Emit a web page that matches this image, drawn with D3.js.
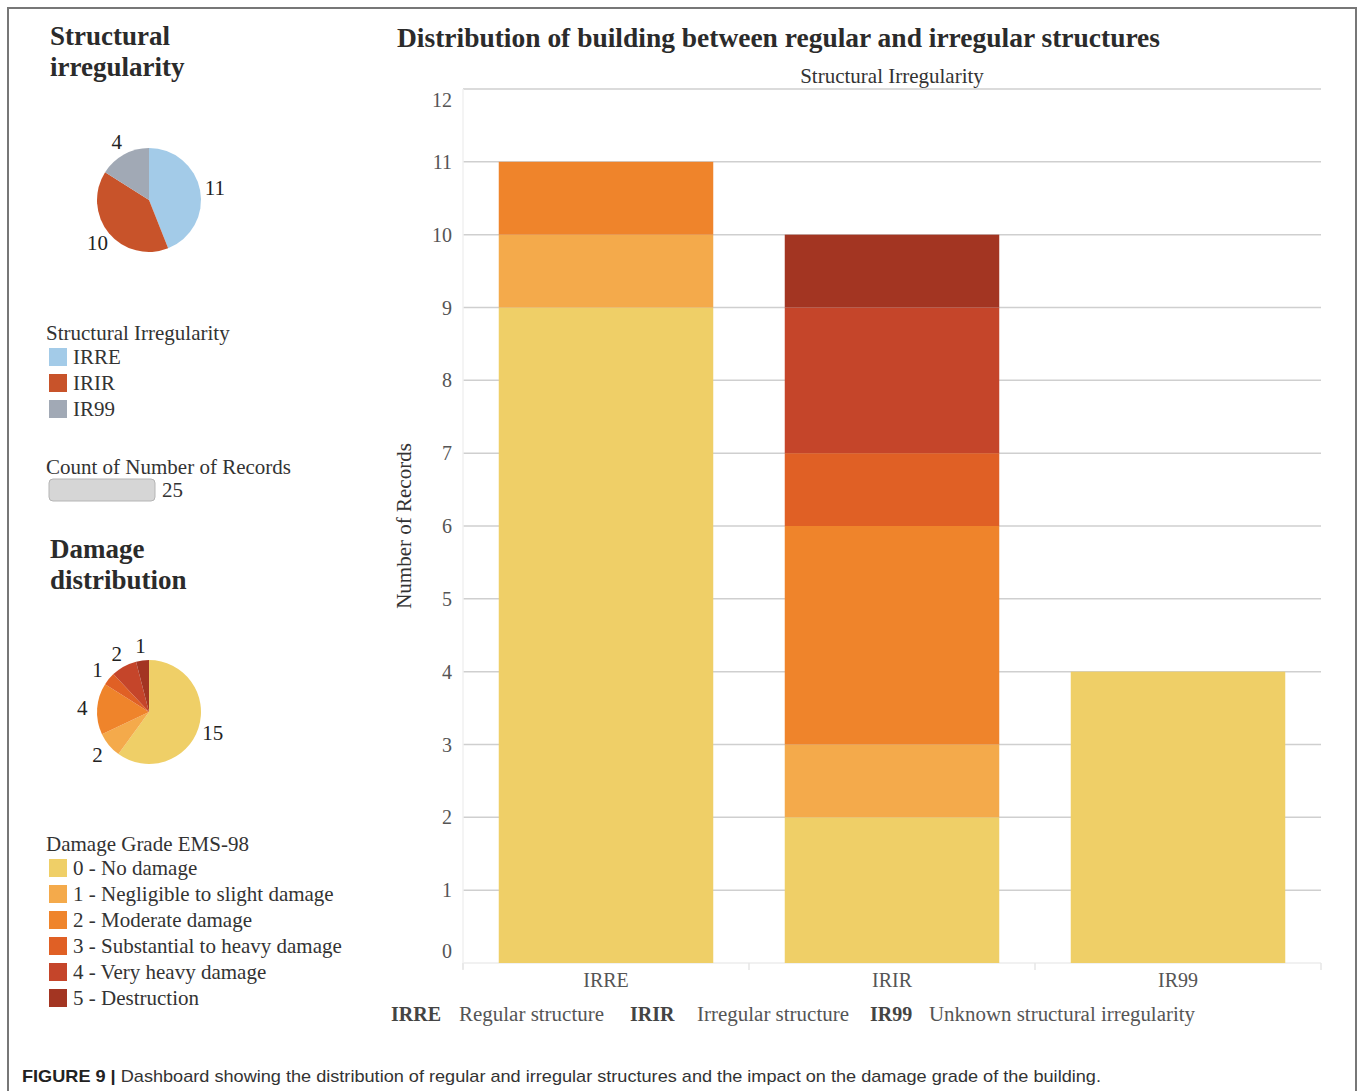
<!DOCTYPE html>
<html>
<head>
<meta charset="utf-8">
<script src="https://cdn.jsdelivr.net/npm/d3@7.9.0/dist/d3.min.js"></script>
<style>
  body { margin: 0; background: #fff; }
  svg text { font-family: "Liberation Serif", "Times New Roman", serif; fill: #333; }
</style>
</head>
<body>
<svg id="chart" width="1360" height="1091"></svg>
<script>
// data
const categories = ['IRRE', 'IRIR', 'IR99'];
const categoryNames = ['Regular structure', 'Irregular structure', 'Unknown structural irregularity'];
const grades = ['0 - No damage', '1 - Negligible to slight damage', '2 - Moderate damage',
  '3 - Substantial to heavy damage', '4 - Very heavy damage', '5 - Destruction'];
const countsIRRE = [9, 1, 1, 0, 0, 0];
const countsIRIR = [2, 1, 3, 1, 2, 1];
const countsIR99 = [4, 0, 0, 0, 0, 0];
const yTicks = [0, 1, 2, 3, 4, 5, 6, 7, 8, 9, 10, 11, 12];

const catColors = ['#a3cbe8', '#c8532a', '#a1a9b5'];
const gradeColors = ['#efcf67', '#f4aa4b', '#ef842b', '#e06025', '#c5452a', '#a33522'];

const svg = d3.select('#chart');

// figure frame
svg.append('path')
  .attr('d', 'M8,1091 V8 H1356 V1091')
  .attr('fill', 'none').attr('stroke', '#777').attr('stroke-width', 2);

const byCat = [countsIRRE, countsIRIR, countsIR99];
const rows = categories.map((c, i) => {
  let r = { cat: c };
  grades.forEach((g, j) => r[g] = byCat[i][j]);
  return r;
});
const catTotals = byCat.map(a => d3.sum(a));
const gradeTotals = grades.map((g, j) => d3.sum(byCat, a => a[j]));

// ---------- left panel ----------
function heading(lines, x, y) {
  let t = svg.append('text').attr('x', x).attr('y', y)
    .style('font-weight', 'bold').style('font-size', '27px').style('fill', '#2b2b2b');
  lines.forEach((l, i) => t.append('tspan').attr('x', x).attr('dy', i ? 31 : 0).text(l));
}

function drawPie(values, colors, cx, cy) {
  let pie = d3.pie().sort(null).value(d => d);
  let arc = d3.arc().innerRadius(0).outerRadius(52);
  let labelArc = d3.arc().innerRadius(67).outerRadius(67);
  let g = svg.append('g').attr('transform', `translate(${cx},${cy})`);
  let arcs = pie(values);
  g.selectAll('path').data(arcs).join('path')
    .attr('d', arc).attr('fill', (d, i) => colors[i]);
  g.selectAll('text').data(arcs.filter(d => d.value > 0)).join('text')
    .attr('transform', d => `translate(${labelArc.centroid(d)})`)
    .attr('text-anchor', 'middle').attr('dy', '0.35em')
    .style('font-size', '21px').style('fill', '#222')
    .text(d => d.value);
}

function legend(title, labels, colors, x, y) {
  svg.append('text').attr('x', x).attr('y', y).attr('dy', '0.35em')
    .style('font-size', '21px').text(title);
  labels.forEach((l, i) => {
    let yy = y + 24 + i * 26;
    svg.append('rect').attr('x', x + 3).attr('y', yy - 9).attr('width', 18).attr('height', 18)
      .attr('fill', colors[i]);
    svg.append('text').attr('x', x + 27).attr('y', yy).attr('dy', '0.35em')
      .style('font-size', '21px').text(l);
  });
}

heading(['Structural', 'irregularity'], 50, 45);
drawPie(catTotals, catColors, 149, 200);
legend('Structural Irregularity', categories, catColors, 46, 333);

// count of records
const total = d3.sum(catTotals);
const countX = d3.scaleLinear().domain([0, 25]).range([0, 106]);
svg.append('text').attr('x', 46).attr('y', 467).attr('dy', '0.35em')
  .style('font-size', '21px').text('Count of Number of Records');
svg.append('rect').attr('x', 49).attr('y', 479).attr('width', countX(total)).attr('height', 22)
  .attr('rx', 4).attr('fill', '#d6d6d6').attr('stroke', '#b5b5b5').attr('stroke-width', 1);
svg.append('text').attr('x', 49 + countX(total) + 7).attr('y', 490).attr('dy', '0.35em')
  .style('font-size', '21px').text(total);

heading(['Damage', 'distribution'], 50, 558);
drawPie(gradeTotals, gradeColors, 149, 712);
legend('Damage Grade EMS-98', grades, gradeColors, 46, 844);

// ---------- stacked bar chart ----------
const plotL = 463, plotR = 1321, plotT = 89, plotB = 963;
const x = d3.scaleBand().domain(categories).range([plotL, plotR]).paddingInner(0.25).paddingOuter(0.125);
const y = d3.scaleLinear().domain([0, 12]).range([plotB, plotT]);

svg.append('text').attr('x', 397).attr('y', 37).attr('dy', '0.35em')
  .attr('textLength', 763).attr('lengthAdjust', 'spacingAndGlyphs')
  .style('font-weight', 'bold').style('font-size', '28px').style('fill', '#2b2b2b')
  .text('Distribution of building between regular and irregular structures');

svg.append('text').attr('x', (plotL + plotR) / 2).attr('y', 76).attr('dy', '0.35em')
  .attr('text-anchor', 'middle').style('font-size', '21px')
  .text('Structural Irregularity');

// grid
svg.append('g').selectAll('line').data(yTicks.filter(d => d > 0)).join('line')
  .attr('x1', plotL).attr('x2', plotR).attr('y1', d => y(d)).attr('y2', d => y(d))
  .attr('stroke', '#cfcfcf').attr('stroke-width', 1.5);
svg.append('line').attr('x1', plotL).attr('x2', plotR).attr('y1', plotB).attr('y2', plotB)
  .attr('stroke', '#ececec').attr('stroke-width', 1.5);
svg.append('line').attr('x1', plotL).attr('x2', plotL).attr('y1', plotT).attr('y2', plotB + 6)
  .attr('stroke', '#f0f0f0').attr('stroke-width', 1.5);
const seps = [plotL, ...categories.slice(1).map(c => x(c) - x.step() * x.paddingInner() / 2), plotR];
svg.append('g').selectAll('line').data(seps).join('line')
  .attr('x1', d => d).attr('x2', d => d).attr('y1', plotB).attr('y2', plotB + 7)
  .attr('stroke', '#e6e6e6').attr('stroke-width', 1.5);

// y tick labels (ends pulled inward like the dashboard)
svg.append('g').selectAll('text').data(yTicks).join('text')
  .attr('x', 452).attr('y', d => Math.max(100, Math.min(951, y(d)))).attr('dy', '0.35em')
  .attr('text-anchor', 'end').style('font-size', '20px').style('fill', '#555')
  .text(d => d);

svg.append('text')
  .attr('transform', `translate(404,${(plotT + plotB) / 2}) rotate(-90)`)
  .attr('text-anchor', 'middle').attr('dy', '0.35em')
  .style('font-size', '21px').text('Number of Records');

const stacked = d3.stack().keys(grades)(rows);
svg.append('g').selectAll('g').data(stacked).join('g')
  .attr('fill', (d, i) => gradeColors[i])
  .selectAll('rect').data(d => d.filter(s => s[1] > s[0])).join('rect')
  .attr('x', d => x(d.data.cat)).attr('width', x.bandwidth())
  .attr('y', d => y(d[1])).attr('height', d => y(d[0]) - y(d[1]));

svg.append('g').selectAll('text').data(categories).join('text')
  .attr('x', d => x(d) + x.bandwidth() / 2).attr('y', 980).attr('dy', '0.35em')
  .attr('text-anchor', 'middle').style('font-size', '20px').style('fill', '#555')
  .text(d => d);

// abbreviation key under the chart
const keyPos = [[391, 459, 145], [630, 697, 152], [870, 929, 266]];
categories.forEach((c, i) => {
  let [kx, nx, nw] = keyPos[i];
  svg.append('text').attr('x', kx).attr('y', 1014).attr('dy', '0.35em')
    .style('font-weight', 'bold').style('font-size', '20px').style('fill', '#444').text(c);
  svg.append('text').attr('x', nx).attr('y', 1014).attr('dy', '0.35em')
    .attr('textLength', nw).attr('lengthAdjust', 'spacingAndGlyphs')
    .style('font-size', '20px').style('fill', '#555').text(categoryNames[i]);
});

// caption
const cap = svg.append('text').attr('x', 22).attr('y', 1076).attr('dy', '0.35em')
  .style('font-family', '"Liberation Sans", Arial, sans-serif').style('font-size', '17px')
  .attr('textLength', 1079).attr('lengthAdjust', 'spacingAndGlyphs');
cap.append('tspan').style('font-weight', 'bold').style('fill', '#222').text('FIGURE 9 | ');
cap.append('tspan').style('fill', '#333')
  .text('Dashboard showing the distribution of regular and irregular structures and the impact on the damage grade of the building.');
</script>
</body>
</html>
